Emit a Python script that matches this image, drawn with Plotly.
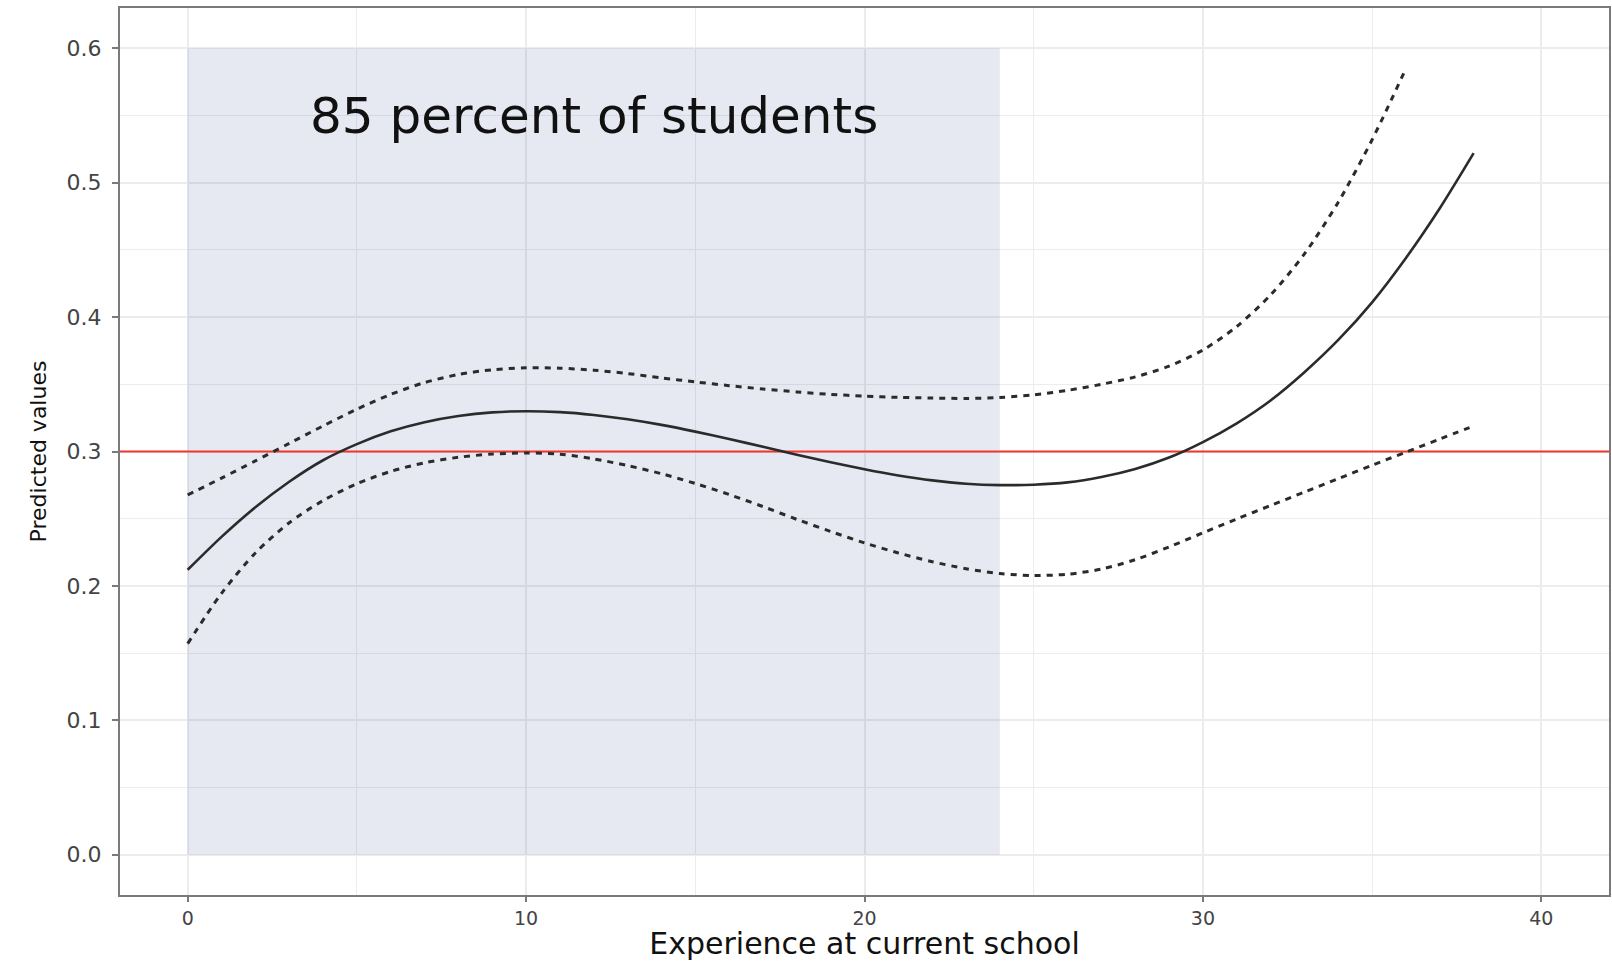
import plotly.graph_objects as go

# Years of experience at the current school
experience = [0, 1, 2, 3, 4, 5, 6, 7, 8, 9, 10, 11, 12, 13, 14, 15, 16, 17, 18, 19,
              20, 21, 22, 23, 24, 25, 26, 27, 28, 29, 30, 31, 32, 33, 34, 35, 36, 37, 38]

# Predicted values (fitted curve)
predicted = [0.212, 0.2365, 0.2585, 0.2775, 0.2935, 0.3055, 0.315, 0.3218, 0.3264, 0.3291,
             0.3300, 0.3293, 0.3272, 0.3240, 0.3198, 0.3148, 0.3093, 0.3035, 0.2976, 0.2920,
             0.2868, 0.2822, 0.2785, 0.2760, 0.2750, 0.2753, 0.277, 0.281, 0.287, 0.2955,
             0.307, 0.321, 0.338, 0.359, 0.383, 0.411, 0.444, 0.481, 0.522]

# Upper confidence band (drawn up to 36 years)
upper_exp = [0, 1, 2, 3, 4, 5, 6, 7, 8, 9, 10, 11, 12, 13, 14, 15, 16, 17, 18,
             19, 20, 21, 22, 23, 24, 25, 26, 27, 28, 29, 30, 31, 32, 33, 34, 35, 36]
upper = [0.2677, 0.2802, 0.2930, 0.3060, 0.3190, 0.3315, 0.3425, 0.3513, 0.3573, 0.3608,
         0.3623, 0.3620, 0.3605, 0.3580, 0.3548, 0.3518, 0.3490, 0.3465, 0.3443, 0.3425,
         0.3412, 0.3403, 0.3398, 0.3395, 0.3402, 0.3422, 0.3455, 0.3500, 0.3555, 0.3635,
         0.3755, 0.393, 0.4165, 0.447, 0.4855, 0.532, 0.585]

# Lower confidence band
lower = [0.157, 0.1945, 0.2245, 0.247, 0.2635, 0.276, 0.2852, 0.2916, 0.2957, 0.2981,
         0.2989, 0.2980, 0.2945, 0.2895, 0.2835, 0.2762, 0.2680, 0.2590, 0.2495, 0.2405,
         0.2320, 0.2245, 0.2180, 0.2128, 0.2092, 0.2077, 0.2087, 0.2125, 0.2195, 0.2290,
         0.2395, 0.2498, 0.2598, 0.2698, 0.2798, 0.2898, 0.2995, 0.3093, 0.319]

# Reference level and shaded region covering 85 percent of students
reference_level = 0.3
shade_x = [0, 24]
shade_y = [0, 0.6]
shade_label = "85 percent of students"
label_pos = (12, 0.55)

x_range = [-2, 42]
y_range = [-0.03, 0.63]
x_ticks = [0, 10, 20, 30, 40]
y_ticks = [0.0, 0.1, 0.2, 0.3, 0.4, 0.5, 0.6]
y_tick_text = ["0.0", "0.1", "0.2", "0.3", "0.4", "0.5", "0.6"]

FONT = "DejaVu Sans"
INK = "#2b2b2b"

fig = go.Figure()

fig.add_shape(type="rect", xref="x", yref="y",
              x0=shade_x[0], x1=shade_x[1], y0=shade_y[0], y1=shade_y[1],
              fillcolor="rgba(55,70,150,0.12)", line_width=0, layer="between")

# Horizontal reference line across the whole panel
fig.add_trace(go.Scatter(x=x_range, y=[reference_level, reference_level], mode="lines",
                         line=dict(color="rgb(240,55,45)", width=2),
                         showlegend=False, hoverinfo="skip", cliponaxis=True))

band_style = dict(color=INK, width=3, dash="6px,6px")

fig.add_trace(go.Scatter(x=upper_exp, y=upper, mode="lines",
                         line=dict(**band_style, shape="spline", smoothing=0.8),
                         showlegend=False, hoverinfo="skip"))
fig.add_trace(go.Scatter(x=experience, y=lower, mode="lines",
                         line=dict(**band_style, shape="spline", smoothing=0.8),
                         showlegend=False, hoverinfo="skip"))
fig.add_trace(go.Scatter(x=experience, y=predicted, mode="lines",
                         line=dict(color=INK, width=2.6, shape="spline", smoothing=0.8),
                         showlegend=False, hoverinfo="skip"))

fig.add_annotation(x=label_pos[0], y=label_pos[1], text=shade_label,
                   showarrow=False, xanchor="center", yanchor="middle",
                   font=dict(family=FONT, size=50, color="#111111"))

grid_color = "#ececec"
axis_common = dict(
    showline=True, mirror=True, linecolor="#7a7a7a", linewidth=2,
    ticks="outside", tickwidth=2, tickcolor="#7a7a7a",
    showgrid=True, gridcolor=grid_color, gridwidth=2,
    zeroline=False, automargin=False,
)

fig.update_xaxes(
    **axis_common,
    range=x_range, tickvals=x_ticks, ticklen=5,
    tickfont=dict(family=FONT, size=19, color="#444444"),
    minor=dict(dtick=5, tick0=0, showgrid=True, gridcolor=grid_color, gridwidth=1),
    title=dict(text="Experience at current school",
               font=dict(family=FONT, size=30, color="#111111"), standoff=12),
)
fig.update_yaxes(
    **axis_common,
    range=y_range, tickvals=y_ticks, ticktext=y_tick_text, ticklen=6,
    tickfont=dict(family=FONT, size=22, color="#444444"),
    ticklabelstandoff=6,
    minor=dict(dtick=0.05, tick0=0, showgrid=True, gridcolor=grid_color, gridwidth=1),
    title=dict(text="Predicted values",
               font=dict(family=FONT, size=22, color="#111111"), standoff=14),
)

fig.update_layout(
    width=1612, height=961,
    margin=dict(l=120, r=3, t=8, b=66),
    paper_bgcolor="white", plot_bgcolor="white",
)

fig.write_html("out.html")
